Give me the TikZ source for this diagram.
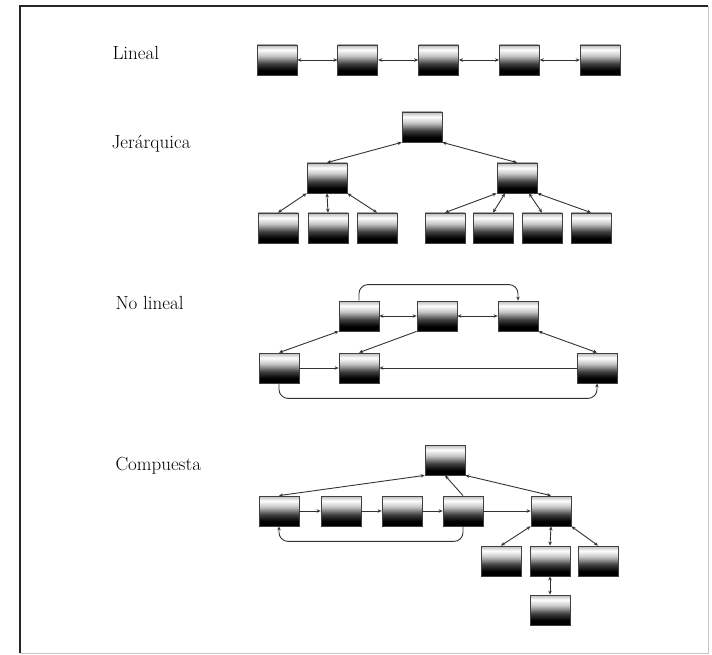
\documentclass[tikz,border=0pt]{standalone}
\usepackage{tikz}
\usetikzlibrary{arrows.meta, positioning, calc}
\pgfdeclareverticalshading{boxshade}{100bp}{%
  color(0bp)=(black); color(33bp)=(black); color(44bp)=(black!75);
  color(57bp)=(gray!45); color(67bp)=(white); color(72bp)=(gray!35);
  color(75bp)=(gray!55); color(100bp)=(gray!55)}
\tikzset{
  blk/.style={rectangle, draw=black!75, line width=0.8pt, shade, shading=boxshade,
    minimum width=40pt, minimum height=30pt, inner sep=0pt},
  lbl/.style={anchor=base west, font=\fontsize{19}{21}\selectfont},
  link/.style={{Stealth[length=4pt,width=3.5pt]}-{Stealth[length=4pt,width=3.5pt]},
    line width=0.9pt, draw=black!80},
  arr/.style={-{Stealth[length=4pt,width=3.5pt]}, line width=0.9pt, draw=black!80},
  arrC/.style={arr, rounded corners=9pt},
}
\begin{document}
\begin{tikzpicture}[x=1pt, y=-1pt]
  \useasboundingbox (0,0) rectangle (712,655);
  \fill[white] (0,0) rectangle (712,655);
  % frame
  \draw[gray!45, line width=1pt] (20,653) -- (708,653) -- (708,6);
  \draw[black!85, line width=1.6pt] (20,653) -- (20,6) -- (708,6);

  % Lineal
  \node[lbl] (tLin) at (109,60) {Lineal};
  \node[blk] (l1) at (277,60) {};
  \node[blk, right=40pt of l1] (l2) {};
  \node[blk, right=40pt of l2] (l3) {};
  \node[blk, right=40pt of l3] (l4) {};
  \node[blk, right=40pt of l4] (l5) {};
  \draw[link] (l1) -- (l2);
  \draw[link] (l2) -- (l3);
  \draw[link] (l3) -- (l4);
  \draw[link] (l4) -- (l5);

  % Jerarquica
  \node[lbl] (tJer) at (108,149) {Jerárquica};
  \node[blk] (root) at (422,127) {};
  \node[blk] (lm) at (327,178) {};
  \node[blk] (rm) at (517,178) {};
  \node[blk] (lc1) at (278,228) {};
  \node[blk] (lc2) at (328,228) {};
  \node[blk] (lc3) at (377,228) {};
  \node[blk] (rc1) at (445,228) {};
  \node[blk] (rc2) at (493,228) {};
  \node[blk] (rc3) at (542,228) {};
  \node[blk] (rc4) at (591,228) {};
  \draw[link] (root.south west) -- (lm.north);
  \draw[link] (root.south east) -- (rm.north);
  \draw[link] (lm.south west) -- (lc1.north);
  \draw[link] (lm.south) -- (lc2.north);
  \draw[link] (lm.south east) -- (lc3.north);
  \draw[link] (rm.south west) -- (rc1.north);
  \draw[link] ([xshift=-12pt]rm.south) -- (rc2.north);
  \draw[link] ([xshift=12pt]rm.south) -- (rc3.north);
  \draw[link] (rm.south east) -- (rc4.north);

  % No lineal
  \node[lbl] (tNol) at (112,309) {No lineal};
  \node[blk] (na) at (359,316) {};
  \node[blk] (nb) at (437,316) {};
  \node[blk] (nc) at (518,316) {};
  \node[blk] (nd) at (279,368) {};
  \node[blk] (ne) at (359,368) {};
  \node[blk] (nf) at (597,368) {};
  \draw[link] (na) -- (nb);
  \draw[link] (nb) -- (nc);
  \draw[arrC] (na.north) -- ++(0,-16) -| (nc.north);
  \draw[link] (na.south west) -- (nd.north);
  \draw[arr] (nb.south west) -- (ne.north);
  \draw[link] (nc.south east) -- (nf.north);
  \draw[arr] (nd) -- (ne);
  \draw[arr] (nf) -- (ne);
  \draw[arrC] (nd.south) -- ++(0,15) -| (nf.south);

  % Compuesta
  \node[lbl] (tCom) at (112,470) {Compuesta};
  \node[blk] (ct) at (445,460) {};
  \node[blk] (p1) at (279,511) {};
  \node[blk] (p2) at (341,511) {};
  \node[blk] (p3) at (402,511) {};
  \node[blk] (p4) at (463,511) {};
  \node[blk] (cq) at (551,511) {};
  \node[blk] (r1) at (501,561) {};
  \node[blk] (r2) at (550,561) {};
  \node[blk] (r3) at (598,561) {};
  \node[blk] (cs) at (550,610) {};
  \draw[link] (ct.south west) -- (p1.north);
  \draw[link] (ct.south east) -- (cq.north);
  \draw[arr] (p4.north) -- (ct.south);
  \draw[arr] (p1) -- (p2);
  \draw[arr] (p2) -- (p3);
  \draw[arr] (p3) -- (p4);
  \draw[arr] (p4) -- (cq);
  \draw[arrC] (p4.south) -- ++(0,15) -| (p1.south);
  \draw[link] (cq.south west) -- (r1.north);
  \draw[link] (cq.south) -- (r2.north);
  \draw[link] (cq.south east) -- (r3.north);
  \draw[link] (r2) -- (cs);
\end{tikzpicture}
\end{document}
